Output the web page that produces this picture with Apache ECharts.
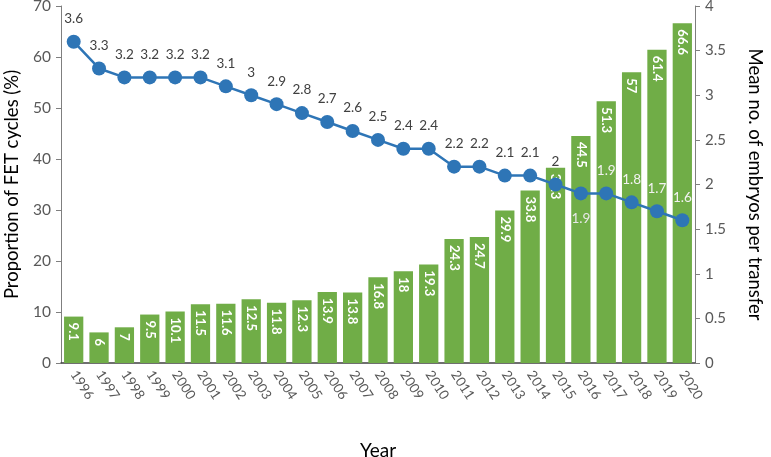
<!DOCTYPE html>
<html><head><meta charset="utf-8">
<script src="https://cdn.jsdelivr.net/npm/echarts@6/dist/echarts.min.js"></script>
<style>html,body{margin:0;padding:0;background:#fff}#c{width:771px;height:457px}</style>
</head><body><div id="c"></div>
<script>
const years = ['1996','1997','1998','1999','2000','2001','2002','2003','2004','2005','2006','2007','2008','2009','2010','2011','2012','2013','2014','2015','2016','2017','2018','2019','2020'];
const fetProportion = [9.1,6,7,9.5,10.1,11.5,11.6,12.5,11.8,12.3,13.9,13.8,16.8,18,19.3,24.3,24.7,29.9,33.8,38.3,44.5,51.3,57,61.4,66.6];
const meanEmbryos = [3.6,3.3,3.2,3.2,3.2,3.2,3.1,3,2.9,2.8,2.7,2.6,2.5,2.4,2.4,2.2,2.2,2.1,2.1,2,1.9,1.9,1.8,1.7,1.6];

const FONT = 'Lato, "Open Sans", sans-serif';
const lineData = meanEmbryos.map((v, i) => {
  const yr = years[i];
  const d = { value: v };
  if (yr === '2016') {
    d.label = { position: 'bottom', color: '#e8e8e8', distance: 11 };
  } else if (+yr >= 2017) {
    d.label = { color: '#f2f2f2' };
  }
  return d;
});

const chart = echarts.init(document.getElementById('c'), null, { renderer: 'canvas' });
chart.setOption({
  animation: false,
  textStyle: { fontFamily: FONT },
  grid: { left: 61, right: 76, top: 6, bottom: 94, containLabel: false, outerBoundsMode: 'none' },
  xAxis: {
    type: 'category', data: years,
    name: 'Year', nameLocation: 'middle', nameGap: 78,
    nameTextStyle: { fontSize: 19, color: '#000', fontFamily: FONT },
    axisLine: { lineStyle: { color: '#404040', width: 1.5 } },
    axisTick: { show: false },
    axisLabel: { rotate: -57, color: '#595959', fontSize: 13.5, margin: 9, interval: 0, fontFamily: FONT }
  },
  yAxis: [
    {
      type: 'value', min: 0, max: 70, interval: 10,
      name: 'Proportion of FET cycles (%)', nameLocation: 'middle', nameGap: 39,
      nameTextStyle: { fontSize: 18.5, color: '#000', fontFamily: FONT },
      axisLine: { show: true, lineStyle: { color: '#7f7f7f' } },
      axisTick: { show: true, inside: false, length: 5, lineStyle: { color: '#7f7f7f' } },
      axisLabel: { color: '#595959', fontSize: 15.5, margin: 10, fontFamily: FONT },
      splitLine: { show: false }
    },
    {
      type: 'value', min: 0, max: 4, interval: 0.5, position: 'right',
      name: 'Mean no. of embryos per transfer', nameLocation: 'middle', nameGap: 50, nameRotate: -90,
      nameTextStyle: { fontSize: 18.5, color: '#000', fontFamily: FONT },
      axisLine: { show: true, lineStyle: { color: '#7f7f7f' } },
      axisTick: { show: true, inside: false, length: 5, lineStyle: { color: '#7f7f7f' } },
      axisLabel: { color: '#595959', fontSize: 15, margin: 10, fontFamily: FONT },
      splitLine: { show: false }
    }
  ],
  series: [
    {
      type: 'bar', data: fetProportion, yAxisIndex: 0,
      barCategoryGap: '24%',
      itemStyle: { color: '#70ad47' },
      label: {
        show: true, position: 'insideTop', rotate: -90, align: 'left', verticalAlign: 'middle',
        distance: 6, color: '#fff', fontSize: 13, fontWeight: 'bold', fontFamily: FONT
      }
    },
    {
      type: 'line', data: lineData, yAxisIndex: 1,
      symbol: 'circle', symbolSize: 14,
      lineStyle: { color: '#2e75b6', width: 2.5 },
      itemStyle: { color: '#2e75b6' },
      label: { show: true, position: 'top', distance: 9, color: '#404040', fontSize: 13.5, fontFamily: FONT }
    }
  ]
});
</script></body></html>
